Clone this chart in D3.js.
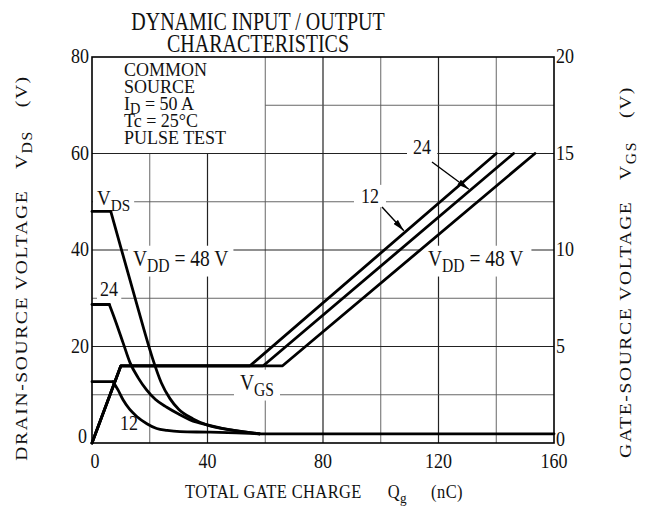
<!DOCTYPE html>
<html>
<head>
<meta charset="utf-8">
<script src="https://cdn.jsdelivr.net/npm/d3@7"></script>
<style>
  html, body { margin: 0; padding: 0; background: #fff; }
  svg { display: block; }
  text { font-family: "Liberation Serif", "Times New Roman", serif; fill: #111; }
</style>
</head>
<body>
<svg id="chart" width="647" height="509"></svg>
<script>
// ---------------- data ----------------
const qTicks   = [0, 40, 80, 120, 160];          // nC
const vdsTicks = [0, 20, 40, 60, 80];            // V (left)
const vgsTicks = [0, 5, 10, 15, 20];             // V (right)
const qGrid    = [20, 40, 60, 80, 100, 120, 140];
const vGrid    = [10, 20, 30, 40, 50, 60, 70];
const boxQ = 60, boxV = 60;                      // text box region (no grid)

// VDS curves [Q (nC), VDS (V)]
const vds48Flat = [[0, 48], [6.5, 48]];
const vds48Fall = [[6.5, 48], [10, 40.5], [14, 32], [18, 23.5], [21, 17.5], [24, 12.5], [27, 9.2], [30, 7], [35, 5], [40, 3.7], [48, 2.7], [58, 1.9]];
const vds24Flat = [[0, 28.7], [6, 28.7]];
const vds24Fall = [[6, 28.7], [8, 25.5], [10.8, 20.7], [13.2, 16.6], [16, 13.5], [18.9, 11], [22, 9], [25.9, 7.4], [30, 6], [34, 4.8], [41, 3.6], [48, 2.7], [58, 1.9]];
const vds12Flat = [[0, 12.7], [7.3, 12.7]];
const vds12Fall = [[7.3, 12.7], [9, 11], [10.8, 8.9], [13, 7], [15.5, 5.5], [19, 4], [22.4, 3.0], [26, 2.6], [30.5, 2.35], [40, 2.25], [50, 2.1], [58, 1.9]];
const vdsTail   = [[58, 1.9], [160, 1.9]];

// VGS curves [Q (nC), VGS (V)]
const vgs12 = [[0, 0], [10, 4], [54.7, 4], [140, 15]];
const vgs24 = [[0, 0], [10, 4], [59.3, 4], [146, 15]];
const vgs48 = [[0, 0], [10, 4], [66, 4], [153.4, 15]];

// text
const titleLines = ["DYNAMIC INPUT / OUTPUT", "CHARACTERISTICS"];
const condLines  = [["COMMON"], ["SOURCE"], ["I", { sub: "D" }, " = 50 A"], ["Tc = 25\u00b0C"], ["PULSE TEST"]];

// ---------------- layout ----------------
const svg = d3.select("#chart");
const X0 = 92, X1 = 554, Y0 = 443, Y1 = 57;
const K = 1.15; // vertical stretch of the printed lettering
const x  = d3.scaleLinear().domain([0, 160]).range([X0, X1]);
const yL = d3.scaleLinear().domain([0, 80]).range([Y0, Y1]);
const yR = d3.scaleLinear().domain([0, 20]).range([Y0, Y1]);

// grid
const grid = svg.append("g");
qGrid.forEach(q => {
  const top = q < boxQ ? yL(boxV) : Y1;
  grid.append("line").attr("x1", x(q)).attr("x2", x(q)).attr("y1", top).attr("y2", Y0)
    .attr("stroke", q % 40 === 0 ? "#222" : "#555").attr("stroke-width", q % 40 === 0 ? 1.2 : 0.9);
});
vGrid.forEach(v => {
  const left = v > boxV ? x(boxQ) : X0;
  grid.append("line").attr("x1", left).attr("x2", X1).attr("y1", yL(v)).attr("y2", yL(v))
    .attr("stroke", v % 20 === 0 ? "#222" : "#555").attr("stroke-width", v % 20 === 0 ? 1.2 : 0.9);
});

const bgLayer = svg.append("g");
const curveLayer = svg.append("g");
const labelLayer = svg.append("g");

// text helper: parts are strings or {sub: "..."}; gap parts {gap: px}
function T(parent, px, py, size, parts, opts = {}) {
  const k = opts.k || K;
  const tr = `translate(${px},${py}) scale(1,${k})` + (opts.rotate ? " rotate(-90)" : "");
  const t = parent.append("text").attr("transform", tr).attr("font-size", size)
    .attr("text-anchor", opts.anchor || "start");
  if (opts.ls) t.attr("letter-spacing", opts.ls);
  let shift = 0, pendingDx = 0;
  const subDrop = opts.subDrop !== undefined ? opts.subDrop : 0.28;
  parts.forEach(p => {
    if (typeof p === "object" && p.gap !== undefined) { pendingDx += p.gap; return; }
    const s = t.append("tspan");
    if (typeof p === "string") {
      s.attr("dy", -shift).text(p); shift = 0;
    } else {
      const d = size * subDrop;
      s.attr("font-size", size * 0.8).attr("dy", d - shift).text(p.sub); shift = d;
    }
    if (pendingDx) { s.attr("dx", pendingDx); pendingDx = 0; }
  });
  if (opts.bg) {
    const b = t.node().getBBox();
    const pad = opts.pad || 4;
    bgLayer.append("rect").attr("transform", tr).attr("x", b.x - pad).attr("y", b.y)
      .attr("width", b.width + 2 * pad).attr("height", b.height).attr("fill", "#fff");
  }
  return t;
}

// curves
const lin  = d3.line().x(d => x(d[0])).y(d => yL(d[1]));
const mono = d3.line().x(d => x(d[0])).y(d => yL(d[1])).curve(d3.curveMonotoneX);
const linR = d3.line().x(d => x(d[0])).y(d => yR(d[1]));
function draw(d) {
  curveLayer.append("path").attr("d", d).attr("stroke", "#000").attr("stroke-width", 2.8)
    .attr("fill", "none").attr("stroke-linejoin", "round").attr("stroke-linecap", "round");
}
[vds48Flat, vds24Flat, vds12Flat, vdsTail].forEach(s => draw(lin(s)));
[vds48Fall, vds24Fall, vds12Fall].forEach(s => draw(mono(s)));
[vgs12, vgs24, vgs48].forEach(s => draw(linR(s)));

// frame
svg.append("rect").attr("x", X0).attr("y", Y1).attr("width", X1 - X0).attr("height", Y0 - Y1)
  .attr("fill", "none").attr("stroke", "#000").attr("stroke-width", 1.6);

// tick labels
vdsTicks.forEach(v => T(svg, v === 0 ? 87 : 89, yL(v) + (v === 0 ? 0 : 6), 18, [String(v)], { anchor: "end" }));
vgsTicks.forEach(v => T(svg, 556, yR(v) + (v === 0 ? 3 : 6), 18, [String(v)]));
qTicks.forEach(q => T(svg, x(q) + (q === 0 ? 3 : 0), 468, 18, [String(q)], { anchor: "middle" }));

// title
T(svg, 258, 30, 20, [titleLines[0]], { anchor: "middle", k: 1.25 });
T(svg, 258, 52, 20, [titleLines[1]], { anchor: "middle", k: 1.25 });

// axis titles
T(svg, 324, 498, 16.5, ["TOTAL GATE CHARGE", { gap: 26 }, "Q", { sub: "g" }, { gap: 24 }, "(nC)"], { anchor: "middle", k: 1.1, ls: 0.4 });
T(svg, 27, 268, 17, ["DRAIN-SOURCE VOLTAGE", { gap: 18 }, "V", { sub: "DS" }, { gap: 20 }, "(V)"], { anchor: "middle", rotate: true, ls: 1.4 });
T(svg, 631, 272, 17, ["GATE-SOURCE VOLTAGE", { gap: 18 }, "V", { sub: "GS" }, { gap: 20 }, "(V)"], { anchor: "middle", rotate: true, ls: 1.4 });

// condition block: one text element, one line per tspan row
(function () {
  const size = 18, lineH = 17 / 1.1, subD = size * 0.2;
  const t = labelLayer.append("text").attr("transform", `translate(124,76) scale(1,1.1)`).attr("font-size", size);
  condLines.forEach((parts, i) => {
    let first = true, shift = 0;
    parts.forEach(p => {
      const s = t.append("tspan");
      let dy = first ? (i === 0 ? 0 : lineH) : 0;
      if (first) s.attr("x", 0);
      if (typeof p === "string") { s.text(p); dy -= shift; shift = 0; }
      else { s.attr("font-size", size * 0.8).text(p.sub); dy += subD - shift; shift = subD; }
      s.attr("dy", dy);
      first = false;
    });
  });
})();

// curve labels
T(labelLayer, 97, 205, 19, ["V", { sub: "DS" }], { bg: true, pad: 4 });
T(labelLayer, 133, 266, 19.5, ["V", { sub: "DD" }, " = 48 V"], { bg: true, pad: 5 });
T(labelLayer, 100, 296, 18, ["24"], { bg: true, pad: 3 });
T(labelLayer, 120, 430, 18, ["12"]);
T(labelLayer, 240, 390, 19.5, ["V", { sub: "GS" }], { bg: true, pad: 6 });
T(labelLayer, 361, 203, 18, ["12"], { bg: true, pad: 7 });
T(labelLayer, 413, 154, 18, ["24"], { bg: true, pad: 6 });
T(labelLayer, 428, 266, 19.5, ["V", { sub: "DD" }, " = 48 V"], { bg: true, pad: 8 });

// arrows
const defs = svg.append("defs");
defs.append("marker").attr("id", "ah").attr("viewBox", "0 0 12 6").attr("refX", 12).attr("refY", 3)
  .attr("markerWidth", 12).attr("markerHeight", 6).attr("markerUnits", "userSpaceOnUse").attr("orient", "auto")
  .append("path").attr("d", "M0,0 L12,3 L0,6 Z").attr("fill", "#000");
const arrows = [
  { from: [382, 207], tip: [108, 11.0] },
  { from: [432, 162], tip: [130.5, 13.15] }
];
arrows.forEach(a => {
  labelLayer.append("line").attr("x1", a.from[0]).attr("y1", a.from[1])
    .attr("x2", x(a.tip[0])).attr("y2", yR(a.tip[1]))
    .attr("stroke", "#000").attr("stroke-width", 1.4).attr("marker-end", "url(#ah)");
});
</script>
</body>
</html>
